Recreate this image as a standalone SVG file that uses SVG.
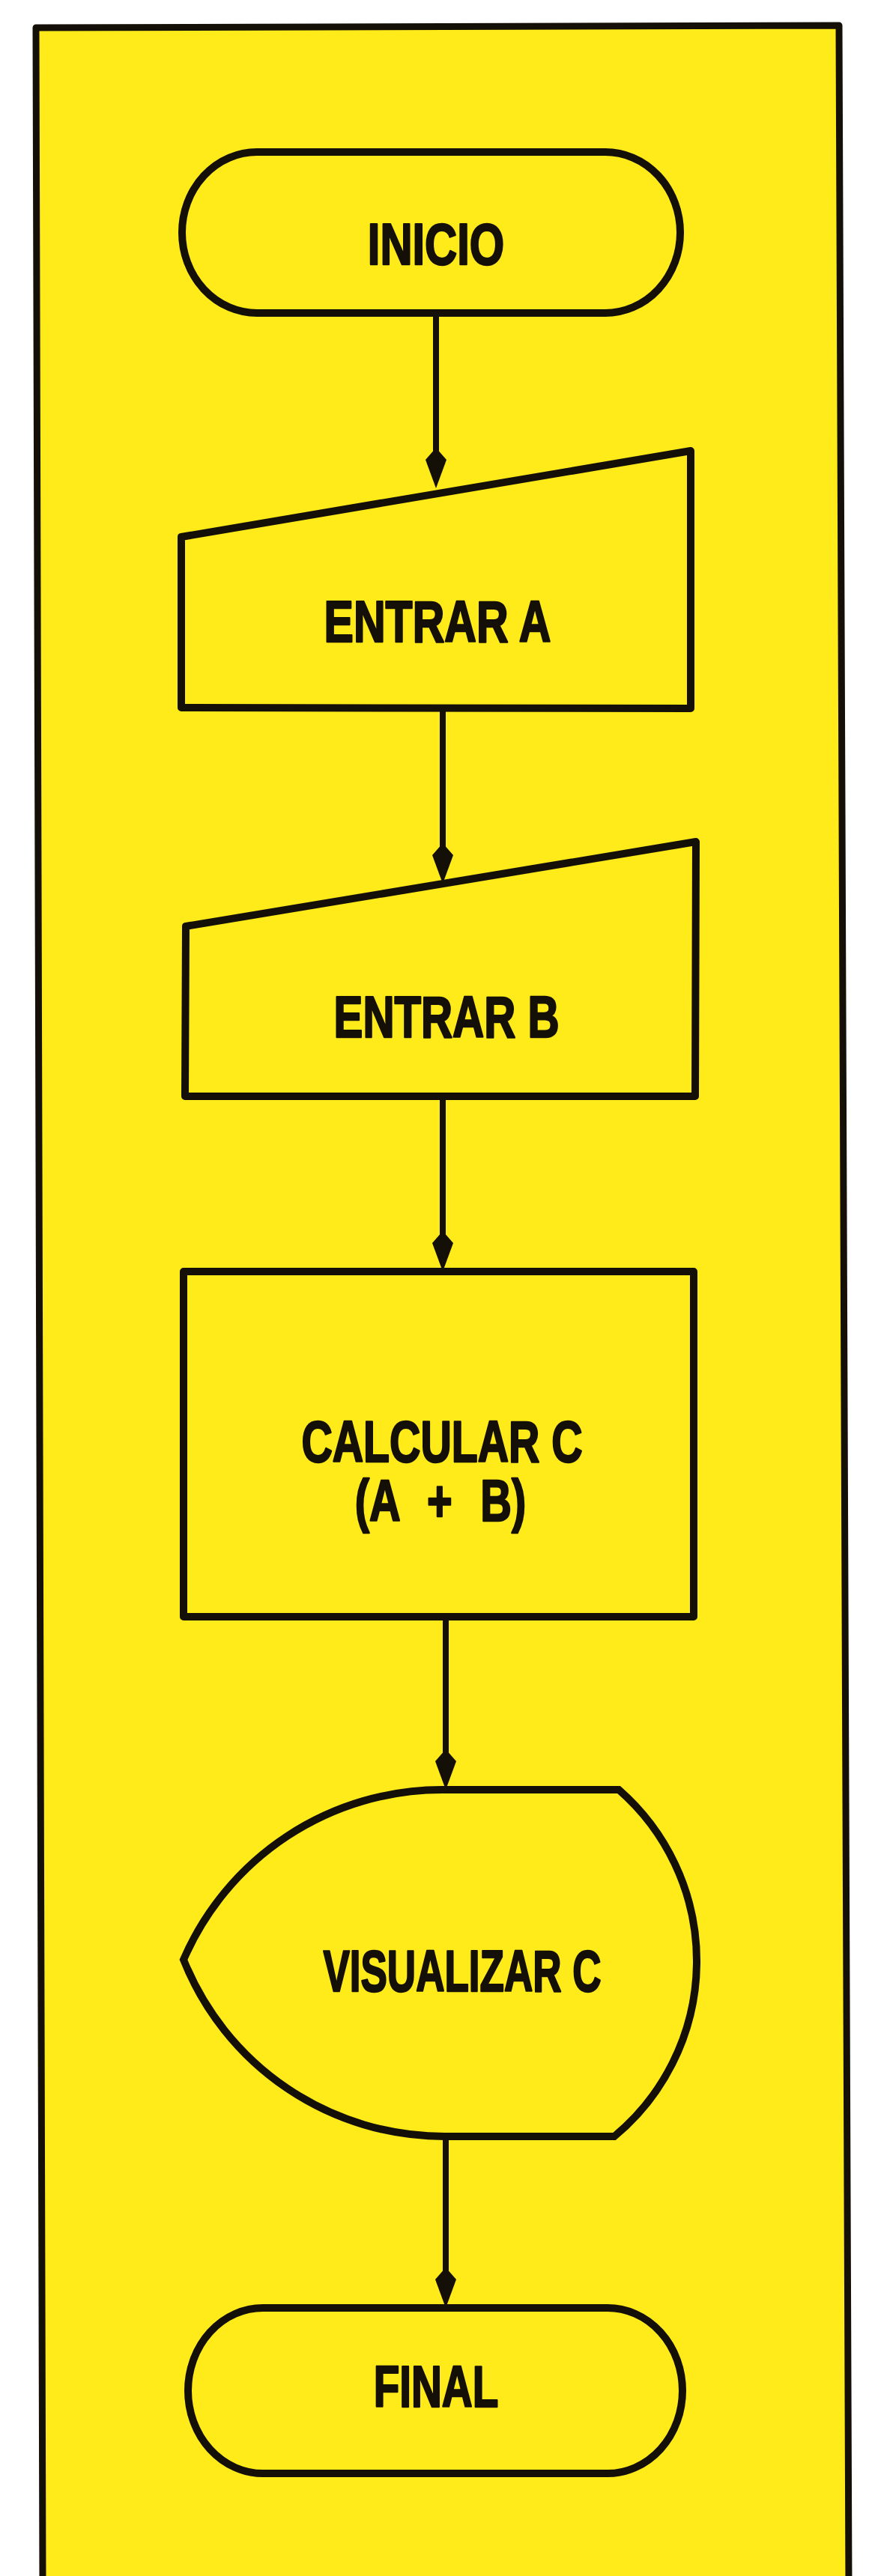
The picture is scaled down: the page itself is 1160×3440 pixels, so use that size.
<svg xmlns="http://www.w3.org/2000/svg" xmlns:xlink="http://www.w3.org/1999/xlink" width="1160" height="3440" viewBox="0 0 1160 3440">
  <style>
    .shape { fill: none; stroke: #141008; stroke-width: 10; stroke-linejoin: round; }
    .frame { fill: #FFEA1A; stroke: #141008; stroke-width: 9; stroke-linejoin: round; }
    .conn { stroke: #141008; stroke-width: 8; fill: none; }
    .head { fill: #141008; }
    .lbl { font-family: "Liberation Sans", Arial, sans-serif; font-weight: bold; font-size: 78px; fill: #141008; stroke: #141008; stroke-width: 2.5; stroke-linejoin: round; text-anchor: middle; }
  </style>
  <defs>
    <path id="ah" class="head" d="M0,0 L-14,-38 L0,-54 L14,-38 Z"/>
  </defs>
  <rect x="0" y="0" width="1160" height="3440" fill="#FFFFFF"/>
  <polygon class="frame" points="48,37 1120,34 1133,3450 57,3450"/>

  <g id="connectors">
    <line class="conn" x1="582" y1="418" x2="582" y2="640"/>
    <use xlink:href="#ah" href="#ah" x="582" y="652"/>
    <line class="conn" x1="591" y1="945" x2="591" y2="1168"/>
    <use xlink:href="#ah" href="#ah" x="591" y="1180"/>
    <line class="conn" x1="591" y1="1464" x2="591" y2="1686"/>
    <use xlink:href="#ah" href="#ah" x="591" y="1698"/>
    <line class="conn" x1="595" y1="2159" x2="595" y2="2378"/>
    <use xlink:href="#ah" href="#ah" x="595" y="2390"/>
    <line class="conn" x1="595" y1="2853" x2="595" y2="3070"/>
    <use xlink:href="#ah" href="#ah" x="595" y="3082"/>
  </g>

  <g id="inicio">
    <path class="shape" d="M343,203 H808 A100,107.5 0 0 1 808,418 H343 A100,107.5 0 0 1 343,203 Z"/>
    <text class="lbl" transform="translate(582,353) scale(0.765,1)">INICIO</text>
  </g>

  <g id="entrar-a">
    <polygon class="shape" points="242,717 922,602 922,946 242,945"/>
    <text class="lbl" transform="translate(584,857) scale(0.757,1)">ENTRAR A</text>
  </g>

  <g id="entrar-b">
    <polygon class="shape" points="248,1237 929,1124 928,1464 247,1464"/>
    <text class="lbl" transform="translate(596,1385) scale(0.747,1)">ENTRAR B</text>
  </g>

  <g id="calcular-c">
    <rect class="shape" x="245" y="1698" width="681" height="461"/>
    <text class="lbl" transform="translate(590,1952) scale(0.734,1)">CALCULAR C</text>
    <text class="lbl" transform="translate(588,2031) scale(0.74,1)" style="word-spacing: 29px;">(A + B)</text>
  </g>

  <g id="visualizar-c">
    <path class="shape" style="stroke-linejoin: miter;" d="M245,2617 A376,376 0 0 1 590,2390 H826 A304,304 0 0 1 820,2853 H593 A375,375 0 0 1 245,2617 Z"/>
    <text class="lbl" transform="translate(617,2659) scale(0.68,1)">VISUALIZAR C</text>
  </g>

  <g id="final">
    <path class="shape" d="M351,3082 H811 A100,110.5 0 0 1 811,3303 H351 A100,110.5 0 0 1 351,3082 Z"/>
    <text class="lbl" transform="translate(582,3214) scale(0.726,1)">FINAL</text>
  </g>
</svg>
